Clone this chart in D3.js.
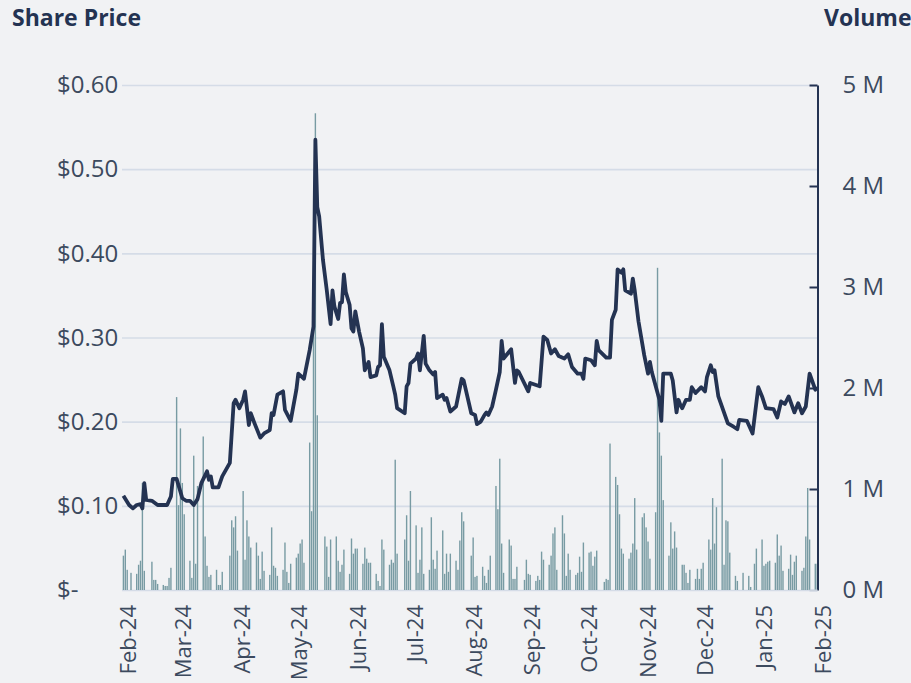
<!DOCTYPE html>
<html>
<head>
<meta charset="utf-8">
<script src="https://cdn.jsdelivr.net/npm/d3@7"></script>
<style>
  body { margin: 0; background: #f1f2f4; }
  svg text { font-family: "Open Sans", "Noto Sans", sans-serif; }
</style>
</head>
<body>
<div id="visual"></div>
<script>
// Share price (date, $)
const priceDates = [
  "2024-01-29","2024-02-01","2024-02-03","2024-02-05","2024-02-07","2024-02-08","2024-02-09","2024-02-10",
  "2024-02-13","2024-02-16","2024-02-21","2024-02-23","2024-02-24","2024-02-26","2024-02-29","2024-03-02",
  "2024-03-04","2024-03-06","2024-03-08","2024-03-10","2024-03-13","2024-03-14","2024-03-15","2024-03-16",
  "2024-03-19","2024-03-21","2024-03-25","2024-03-27","2024-03-28","2024-03-30","2024-04-01","2024-04-02",
  "2024-04-04","2024-04-05","2024-04-07","2024-04-10","2024-04-12","2024-04-15","2024-04-16","2024-04-17",
  "2024-04-19","2024-04-22","2024-04-23","2024-04-26","2024-04-29","2024-04-30","2024-05-03","2024-05-06",
  "2024-05-08","2024-05-09","2024-05-10","2024-05-11","2024-05-13","2024-05-15","2024-05-17","2024-05-18",
  "2024-05-19","2024-05-21","2024-05-22","2024-05-23","2024-05-24","2024-05-25","2024-05-27","2024-05-28",
  "2024-05-29","2024-05-30","2024-06-01","2024-06-03","2024-06-04","2024-06-06","2024-06-07","2024-06-10",
  "2024-06-11","2024-06-12","2024-06-13","2024-06-14","2024-06-17","2024-06-19","2024-06-20","2024-06-21",
  "2024-06-25","2024-06-26","2024-06-27","2024-06-28","2024-07-01","2024-07-02","2024-07-03","2024-07-05",
  "2024-07-06","2024-07-08","2024-07-10","2024-07-11","2024-07-12","2024-07-15","2024-07-16","2024-07-17",
  "2024-07-19","2024-07-22","2024-07-25","2024-07-26","2024-07-30","2024-08-01","2024-08-02","2024-08-04",
  "2024-08-06","2024-08-07","2024-08-08","2024-08-10","2024-08-12","2024-08-14","2024-08-15","2024-08-16",
  "2024-08-20","2024-08-22","2024-08-23","2024-08-24","2024-08-29","2024-08-30","2024-09-04","2024-09-06",
  "2024-09-08","2024-09-10","2024-09-12","2024-09-14","2024-09-17","2024-09-19","2024-09-21","2024-09-24",
  "2024-09-26","2024-09-27","2024-09-28","2024-10-01","2024-10-03","2024-10-04","2024-10-05","2024-10-09",
  "2024-10-11","2024-10-12","2024-10-14","2024-10-15","2024-10-17","2024-10-18","2024-10-19","2024-10-22",
  "2024-10-23","2024-10-24","2024-10-26","2024-10-29","2024-10-31","2024-11-01","2024-11-02","2024-11-06",
  "2024-11-07","2024-11-08","2024-11-12","2024-11-13","2024-11-15","2024-11-16","2024-11-17","2024-11-18",
  "2024-11-20","2024-11-22","2024-11-23","2024-11-25","2024-11-28","2024-11-30","2024-12-01","2024-12-03",
  "2024-12-04","2024-12-05","2024-12-07","2024-12-12","2024-12-15","2024-12-17","2024-12-18","2024-12-22",
  "2024-12-25","2024-12-28","2024-12-30","2025-01-01","2025-01-05","2025-01-07","2025-01-09","2025-01-11",
  "2025-01-13","2025-01-16","2025-01-18","2025-01-20","2025-01-22","2025-01-24","2025-01-27","2025-01-28"
];
const priceValues = [
  0.112,0.101,0.097,0.101,0.102,0.097,0.127,0.107,
  0.106,0.101,0.101,0.111,0.132,0.132,0.109,0.106,
  0.106,0.101,0.108,0.127,0.141,0.131,0.135,0.122,
  0.122,0.135,0.151,0.222,0.226,0.216,0.226,0.236,
  0.196,0.210,0.198,0.181,0.186,0.190,0.210,0.208,
  0.232,0.236,0.214,0.201,0.238,0.257,0.251,0.285,
  0.313,0.535,0.455,0.444,0.392,0.356,0.316,0.356,
  0.337,0.322,0.341,0.342,0.375,0.354,0.339,0.311,
  0.307,0.331,0.307,0.287,0.261,0.271,0.253,0.255,
  0.265,0.267,0.316,0.277,0.261,0.242,0.232,0.216,
  0.210,0.242,0.246,0.269,0.275,0.281,0.261,0.302,
  0.269,0.261,0.256,0.259,0.228,0.232,0.226,0.228,
  0.212,0.218,0.251,0.249,0.210,0.208,0.197,0.200,
  0.208,0.211,0.208,0.218,0.238,0.259,0.296,0.275,
  0.286,0.246,0.261,0.259,0.236,0.246,0.242,0.301,
  0.297,0.281,0.286,0.278,0.275,0.280,0.265,0.257,
  0.257,0.251,0.275,0.273,0.267,0.296,0.285,0.276,
  0.276,0.321,0.333,0.381,0.377,0.381,0.356,0.352,
  0.370,0.356,0.319,0.279,0.257,0.271,0.259,0.226,
  0.201,0.257,0.257,0.249,0.211,0.226,0.220,0.216,
  0.226,0.226,0.241,0.234,0.241,0.236,0.253,0.267,
  0.259,0.261,0.230,0.198,0.194,0.191,0.202,0.201,
  0.186,0.241,0.230,0.216,0.215,0.205,0.224,0.221,
  0.230,0.211,0.222,0.210,0.218,0.257,0.238,0.241
];

// Daily volume, in millions of shares
const volumeDates = [
  "2024-01-29","2024-01-30","2024-01-31","2024-02-02","2024-02-05","2024-02-06","2024-02-07","2024-02-08","2024-02-09",
  "2024-02-13","2024-02-14","2024-02-15","2024-02-16","2024-02-19","2024-02-20","2024-02-21","2024-02-22","2024-02-23",
  "2024-02-26","2024-02-27","2024-02-28","2024-02-29","2024-03-01","2024-03-04","2024-03-05","2024-03-06","2024-03-07","2024-03-08",
  "2024-03-11","2024-03-12","2024-03-13","2024-03-14","2024-03-15","2024-03-18","2024-03-19","2024-03-20","2024-03-21",
  "2024-03-25","2024-03-26","2024-03-27","2024-03-28","2024-03-29","2024-04-01","2024-04-02","2024-04-03","2024-04-04","2024-04-05",
  "2024-04-08","2024-04-09","2024-04-10","2024-04-11","2024-04-12","2024-04-15","2024-04-16","2024-04-17","2024-04-18","2024-04-19",
  "2024-04-22","2024-04-23","2024-04-24","2024-04-25","2024-04-26","2024-04-29","2024-04-30","2024-05-01","2024-05-02","2024-05-03",
  "2024-05-06","2024-05-07","2024-05-08","2024-05-09","2024-05-10","2024-05-14","2024-05-15","2024-05-16","2024-05-17",
  "2024-05-20","2024-05-21","2024-05-22","2024-05-23","2024-05-24","2024-05-27","2024-05-28","2024-05-29","2024-05-30","2024-05-31",
  "2024-06-03","2024-06-04","2024-06-05","2024-06-06","2024-06-07","2024-06-10","2024-06-11","2024-06-12","2024-06-13","2024-06-14",
  "2024-06-17","2024-06-18","2024-06-19","2024-06-20","2024-06-21","2024-06-25","2024-06-26","2024-06-27","2024-06-28",
  "2024-07-01","2024-07-02","2024-07-03","2024-07-04","2024-07-05","2024-07-08","2024-07-09","2024-07-10","2024-07-11","2024-07-12",
  "2024-07-15","2024-07-16","2024-07-17","2024-07-18","2024-07-19","2024-07-22","2024-07-23","2024-07-24","2024-07-25","2024-07-26",
  "2024-07-30","2024-07-31","2024-08-01","2024-08-02","2024-08-05","2024-08-06","2024-08-07","2024-08-08","2024-08-09",
  "2024-08-12","2024-08-13","2024-08-14","2024-08-15","2024-08-16","2024-08-19","2024-08-20","2024-08-21","2024-08-22","2024-08-23",
  "2024-08-27","2024-08-28","2024-08-29","2024-08-30","2024-09-02","2024-09-03","2024-09-04","2024-09-05","2024-09-06",
  "2024-09-09","2024-09-10","2024-09-11","2024-09-12","2024-09-13","2024-09-16","2024-09-17","2024-09-18","2024-09-19","2024-09-20",
  "2024-09-23","2024-09-24","2024-09-25","2024-09-26","2024-09-27","2024-09-30","2024-10-01","2024-10-02","2024-10-03","2024-10-04",
  "2024-10-08","2024-10-09","2024-10-10","2024-10-11","2024-10-14","2024-10-15","2024-10-16","2024-10-17","2024-10-18",
  "2024-10-21","2024-10-22","2024-10-23","2024-10-24","2024-10-25","2024-10-28","2024-10-29","2024-10-30","2024-10-31","2024-11-01",
  "2024-11-04","2024-11-05","2024-11-06","2024-11-07","2024-11-08","2024-11-11","2024-11-12","2024-11-13","2024-11-14","2024-11-15",
  "2024-11-18","2024-11-19","2024-11-20","2024-11-21","2024-11-22","2024-11-25","2024-11-26","2024-11-27","2024-11-28","2024-11-29",
  "2024-12-02","2024-12-03","2024-12-04","2024-12-05","2024-12-06","2024-12-09","2024-12-10","2024-12-11","2024-12-12","2024-12-13",
  "2024-12-16","2024-12-17","2024-12-20","2024-12-23","2024-12-24","2024-12-26","2024-12-27",
  "2024-12-30","2024-12-31","2025-01-01","2025-01-02","2025-01-03","2025-01-06","2025-01-07","2025-01-08","2025-01-09","2025-01-10",
  "2025-01-13","2025-01-14","2025-01-15","2025-01-16","2025-01-17","2025-01-20","2025-01-21","2025-01-22","2025-01-23","2025-01-24",
  "2025-01-27","2025-01-28"
];
const volumeValues = [
  0.34,0.40,0.20,0.17,0.16,0.25,0.29,1.06,0.19,
  0.28,0.10,0.10,0.06,0.05,0.04,0.04,0.12,0.22,
  1.91,0.84,1.60,1.06,0.75,0.29,0.12,1.33,0.26,1.03,
  1.52,0.53,0.24,0.13,0.15,0.20,0.05,0.05,0.18,
  0.34,0.69,0.62,0.73,0.39,0.98,0.30,0.69,0.53,0.42,
  0.47,0.34,0.11,0.38,0.19,0.15,0.62,0.24,0.22,0.14,
  0.20,0.47,0.18,0.07,0.26,0.32,0.36,0.46,0.50,0.27,
  1.46,0.78,2.60,4.72,1.73,0.53,0.43,0.13,0.50,
  0.53,0.29,0.18,0.25,0.40,0.16,0.51,0.36,0.41,0.41,
  0.26,0.42,0.31,0.27,0.27,0.16,0.09,0.04,0.50,0.40,
  0.25,0.30,0.27,1.29,0.36,0.50,0.74,0.29,0.98,
  0.64,0.17,0.30,0.62,0.16,0.20,0.72,0.30,0.21,0.39,
  0.59,0.16,0.36,0.18,0.36,0.29,0.20,0.49,0.77,0.68,
  0.34,0.52,0.13,0.14,0.23,0.14,0.07,0.20,0.34,
  1.03,0.80,1.30,0.46,0.17,0.50,0.44,0.11,0.11,0.23,
  0.10,0.30,0.16,0.15,0.09,0.14,0.10,0.38,0.30,
  0.25,0.34,0.56,0.62,0.20,0.74,0.56,0.14,0.36,0.20,
  0.15,0.17,0.33,0.18,0.47,0.37,0.38,0.24,0.33,0.39,
  0.08,0.11,0.10,1.45,1.12,1.04,0.75,0.41,0.36,
  0.31,0.37,0.46,0.91,0.40,0.72,0.76,0.62,0.48,0.31,
  0.77,3.19,1.56,1.33,0.89,0.34,0.67,0.41,0.58,0.42,
  0.25,0.25,0.17,0.07,0.20,0.11,0.21,0.11,0.21,0.27,
  0.50,0.40,0.91,0.46,0.82,1.30,0.25,0.69,0.68,0.37,
  0.14,0.09,0.17,0.14,0.03,0.26,0.41,
  0.50,0.24,0.26,0.28,0.29,0.27,0.55,0.34,0.44,0.19,
  0.21,0.35,0.15,0.28,0.34,0.19,0.22,0.53,1.01,0.50,
  0.26,0.26
];

// Axis ticks
const priceTicks = [0, 0.1, 0.2, 0.3, 0.4, 0.5, 0.6];
const priceTickLabels = ["$-", "$0.10", "$0.20", "$0.30", "$0.40", "$0.50", "$0.60"];
const volumeTicks = [0, 1, 2, 3, 4, 5];
const volumeTickLabels = ["0 M", "1 M", "2 M", "3 M", "4 M", "5 M"];
const monthTicks = ["2024-02-01","2024-03-01","2024-04-01","2024-05-01","2024-06-01","2024-07-01",
  "2024-08-01","2024-09-01","2024-10-01","2024-11-01","2024-12-01","2025-01-01","2025-02-01"];

const parseDate = d3.utcParse("%Y-%m-%d");
const formatMonth = d3.utcFormat("%b-%y");

const width = 911, height = 683;
const plot = { left: 122, right: 817.5, top: 85, bottom: 590 };
const fontFamily = "'Open Sans', 'Noto Sans', sans-serif";

const svg = d3.select("#visual")
    .append("svg")
    .attr("width", width)
    .attr("height", height)
    .attr("font-family", fontFamily);

svg.append("rect")
    .attr("width", width)
    .attr("height", height)
    .attr("fill", "#f1f2f4");

// Set up scales
const x = d3.scaleUtc()
    .domain([parseDate("2024-02-01"), parseDate("2025-02-01")])
    .range([129.1, 824.8]);

const yPrice = d3.scaleLinear()
    .domain([0, 0.6])
    .range([plot.bottom, plot.top]);

const yVol = d3.scaleLinear()
    .domain([0, 5])
    .range([plot.bottom, plot.top]);

// Gridlines from the price axis
const grid = svg.append("g")
    .attr("transform", "translate(" + plot.left + ",0)")
    .call(d3.axisLeft(yPrice)
        .tickValues(priceTicks)
        .tickSize(-(plot.right - plot.left))
        .tickFormat(""));
grid.select(".domain").remove();
grid.selectAll("line")
    .attr("stroke", "#d5dce7")
    .attr("stroke-width", 1.6);

// Volume bars
const volumeData = volumeDates.map((d, i) => ({ date: parseDate(d), value: volumeValues[i] }));
svg.append("g")
    .selectAll("rect")
    .data(volumeData)
    .enter()
    .append("rect")
    .attr("x", d => x(d.date) - 0.7)
    .attr("y", d => yVol(d.value))
    .attr("width", 1.4)
    .attr("height", d => plot.bottom - yVol(d.value))
    .attr("fill", "#789ba3");

// Price line
const priceData = priceDates.map((d, i) => ({ date: parseDate(d), value: priceValues[i] }));
svg.append("path")
    .datum(priceData)
    .attr("fill", "none")
    .attr("stroke", "#243352")
    .attr("stroke-width", 3.8)
    .attr("stroke-linejoin", "round")
    .attr("d", d3.line().x(d => x(d.date)).y(d => yPrice(d.value)));

// Left axis: price labels
const leftAxis = svg.append("g")
    .attr("transform", "translate(" + plot.left + ",0)")
    .call(d3.axisLeft(yPrice)
        .tickValues(priceTicks)
        .tickSize(0)
        .tickFormat((d, i) => priceTickLabels[i]));
leftAxis.attr("font-family", fontFamily).attr("font-size", 24);
leftAxis.select(".domain").remove();
leftAxis.selectAll("text")
    .attr("x", 57 - plot.left)
    .attr("text-anchor", "start")
    .attr("fill", "#3c4a5e");

// Right axis: volume
const rightAxis = svg.append("g")
    .attr("transform", "translate(" + plot.right + ",0)")
    .call(d3.axisRight(yVol)
        .tickValues(volumeTicks)
        .tickSize(-8)
        .tickSizeOuter(0)
        .tickPadding(25)
        .tickFormat((d, i) => volumeTickLabels[i]));
rightAxis.attr("font-family", fontFamily).attr("font-size", 24);
rightAxis.select(".domain")
    .attr("stroke", "#243352")
    .attr("stroke-width", 2);
rightAxis.selectAll("line")
    .attr("stroke", d => d === 0 ? "#c9d1dc" : "#243352")
    .attr("stroke-width", 2);
rightAxis.selectAll("text")
    .attr("fill", "#3c4a5e");

// Bottom axis: month labels
const bottomAxis = svg.append("g")
    .attr("transform", "translate(0," + plot.bottom + ")")
    .call(d3.axisBottom(x)
        .tickValues(monthTicks.map(parseDate))
        .tickSize(0)
        .tickFormat(formatMonth));
bottomAxis.attr("font-family", fontFamily).attr("font-size", 22);
bottomAxis.select(".domain").remove();
bottomAxis.selectAll("text")
    .attr("transform", "rotate(-90)")
    .attr("x", -15)
    .attr("y", 0)
    .attr("dy", 6)
    .attr("text-anchor", "end")
    .attr("fill", "#3c4a5e");

// Axis titles
svg.append("text")
    .attr("x", 12)
    .attr("y", 26)
    .attr("fill", "#243352")
    .attr("font-size", 23)
    .attr("font-weight", "bold")
    .text("Share Price");

svg.append("text")
    .attr("x", 824)
    .attr("y", 26)
    .attr("fill", "#243352")
    .attr("font-size", 23)
    .attr("font-weight", "bold")
    .text("Volume");
</script>
</body>
</html>
